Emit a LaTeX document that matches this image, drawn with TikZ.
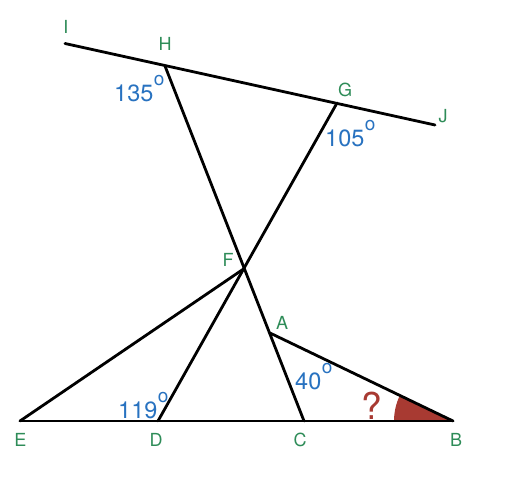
\documentclass[tikz,border=0pt]{standalone}
\usepackage{fontspec}
\newfontfamily\labfont{TeX Gyre Heros}
\definecolor{labgreen}{RGB}{46,140,88}
\definecolor{angblue}{RGB}{40,114,192}
\definecolor{angred}{RGB}{168,58,50}
\newcommand{\angval}[1]{#1\kern0.5pt\raisebox{15.5pt}{\fontsize{19}{19}\selectfont o}}
\tikzset{
  seg/.style={draw=black, line width=2.8pt, line cap=round},
  lab/.style={text=labgreen, inner sep=0pt, font=\labfont\fontsize{18}{18}\selectfont},
  ang/.style={text=angblue, inner sep=0pt, anchor=base west, font=\labfont\fontsize{23.5}{23.5}\selectfont}
}
\begin{document}
\begin{tikzpicture}[x=1pt, y=-1pt]
    \useasboundingbox (0,0) rectangle (524,493);
        % points
        \coordinate (I) at (65,43.5);
        \coordinate (H) at (165,66);
        \coordinate (G) at (337,103);
        \coordinate (J) at (435,125);
        \coordinate (F) at (243.5,269);
        \coordinate (A) at (270,333);
        \coordinate (E) at (20,421);
        \coordinate (D) at (158,421);
        \coordinate (C) at (304,421);
        \coordinate (B) at (453,421);
        % marked angle at B
        \fill[angred] (B) -- ++(180:59) arc (180:205.6:59) -- cycle;
        % lines
		\draw[seg] (I) -- (J);
		\draw[seg] (H) -- (C);
		\draw[seg] (G) -- (D);
		\draw[seg] (E) -- (F);
		\draw[seg] (A) -- (B);
		\draw[seg] (E) -- (B);
        % point labels
		\node[lab] (lI) at (66,27) {I};
		\node[lab] (lH) at (165,44) {H};
		\node[lab] (lG) at (345,90) {G};
		\node[lab] (lJ) at (443,116) {J};
		\node[lab] (lF) at (228,260) {F};
		\node[lab] (lA) at (282,323) {A};
		\node[lab] (lE) at (20.5,440) {E};
		\node[lab] (lD) at (156,440) {D};
		\node[lab] (lC) at (300,440) {C};
		\node[lab] (lB) at (456,440) {B};
        % angle values
		\node[ang] (aH) at (114,101) {\angval{135}};
		\node[ang] (aG) at (325,146) {\angval{105}};
		\node[ang] (aA) at (295,389) {\angval{40}};
		\node[ang] (aD) at (118,418) {\angval{119}};
		\node[text=angred, inner sep=0pt, font=\labfont\fontsize{37}{37}\selectfont] (qB) at (372,406) {?};
    \end{tikzpicture}
\end{document}
